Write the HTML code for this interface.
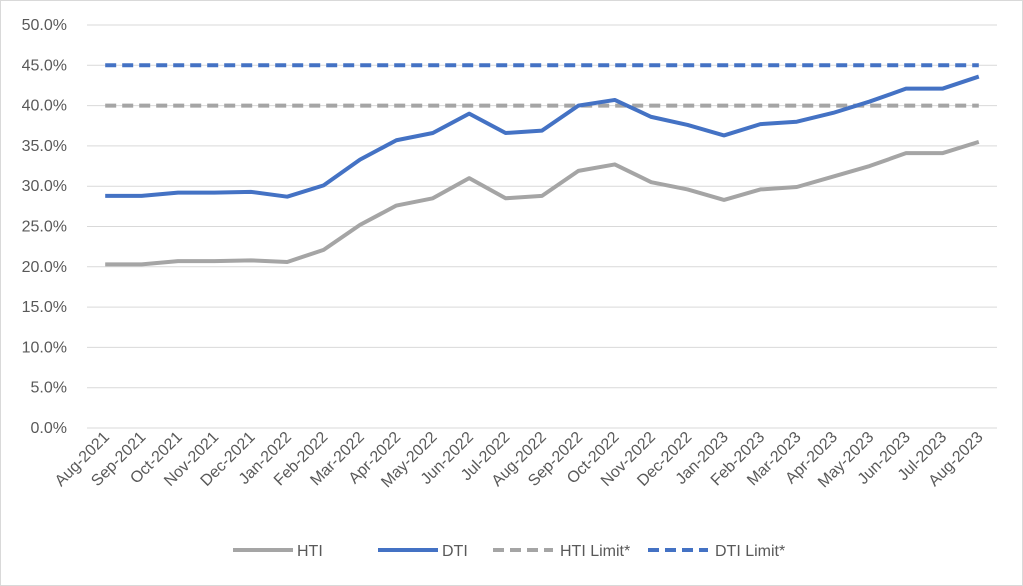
<!DOCTYPE html>
<html><head><meta charset="utf-8"><style>
html,body{margin:0;padding:0;background:#fff;}
svg{display:block;font-family:"Liberation Sans",sans-serif;}
</style></head><body>
<svg width="1023" height="586" viewBox="0 0 1023 586" xmlns="http://www.w3.org/2000/svg">
<rect x="0.5" y="0.5" width="1022" height="585" fill="#fff" stroke="#d9d9d9"/>
<g id="grid" stroke="#d9d9d9" stroke-width="1"></g>
<g id="ylab" font-size="16" fill="#595959" text-anchor="end"></g>
<g id="xlab" font-size="16" fill="#595959" text-anchor="end"></g>
<g id="series" fill="none"></g>
<g font-size="16" fill="#595959">
<line x1="233" y1="550" x2="293" y2="550" stroke="#a5a5a5" stroke-width="4"/>
<text x="297" y="556">HTI</text>
<line x1="378" y1="550" x2="438" y2="550" stroke="#4472c4" stroke-width="4"/>
<text x="442" y="556">DTI</text>
<line x1="493" y1="550" x2="553" y2="550" stroke="#a5a5a5" stroke-width="4" stroke-dasharray="11,6"/>
<text x="560" y="556">HTI Limit*</text>
<line x1="648" y1="550" x2="708" y2="550" stroke="#4472c4" stroke-width="4" stroke-dasharray="11,6"/>
<text x="715" y="556">DTI Limit*</text>
</g>
<script>
var ns="http://www.w3.org/2000/svg";
function el(p,t,a,txt){var e=document.createElementNS(ns,t);for(var k in a)e.setAttribute(k,a[k]);if(txt)e.textContent=txt;document.getElementById(p).appendChild(e);return e;}
var y0=428,ppv=8.06,L=87,R=997,dx=36.4;
function Y(v){return y0-v*ppv;}
function X(i){return L+dx*(i+0.5);}
for(var v=0;v<=50;v+=5){el('grid','line',{x1:L,x2:R,y1:Y(v),y2:Y(v)});el('ylab','text',{x:67,y:Y(v)+5},v.toFixed(1)+'%');}
var m=['Aug','Sep','Oct','Nov','Dec','Jan','Feb','Mar','Apr','May','Jun','Jul','Aug','Sep','Oct','Nov','Dec','Jan','Feb','Mar','Apr','May','Jun','Jul','Aug'];
for(var i=0;i<25;i++){var yr=i<5?2021:(i<17?2022:2023);var x=X(i)+5,y=438;el('xlab','text',{x:x,y:y,transform:'rotate(-45 '+x+' '+y+')'},m[i]+'-'+yr);}
var dti=[28.8,28.8,29.2,29.2,29.3,28.7,30.1,33.3,35.7,36.6,39.0,36.6,36.9,40.0,40.7,38.6,37.6,36.3,37.7,38.0,39.1,40.5,42.1,42.1,43.6];
var hti=[20.3,20.3,20.7,20.7,20.8,20.6,22.1,25.2,27.6,28.5,31.0,28.5,28.8,31.9,32.7,30.5,29.6,28.3,29.6,29.9,31.2,32.5,34.1,34.1,35.5];
function pts(a){return a.map(function(v,i){return X(i)+','+Y(v)}).join(' ');}
el('series','line',{x1:X(0),x2:X(24),y1:Y(40),y2:Y(40),stroke:'#a5a5a5','stroke-width':4,'stroke-dasharray':'11,6'});
el('series','line',{x1:X(0),x2:X(24),y1:Y(45),y2:Y(45),stroke:'#4472c4','stroke-width':4,'stroke-dasharray':'11,6'});
el('series','polyline',{points:pts(hti),stroke:'#a5a5a5','stroke-width':4,'stroke-linejoin':'round'});
el('series','polyline',{points:pts(dti),stroke:'#4472c4','stroke-width':4,'stroke-linejoin':'round'});
</script>
</svg>
</body></html>
